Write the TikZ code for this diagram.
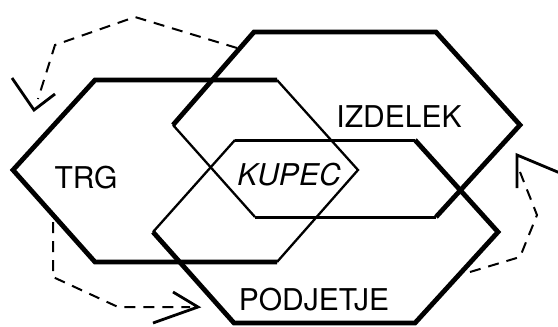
\documentclass[tikz,border=0pt]{standalone}
\usepackage{fontspec}
\setmainfont{TeX Gyre Heros}
\begin{document}
\begin{tikzpicture}[x=1pt,y=-1pt,
  thickedge/.style={line width=4.8pt,line join=miter,line cap=butt},
  midedge/.style={line width=3pt,line cap=butt},
  thinedge/.style={line width=2.3pt,line cap=butt},
  flow/.style={line width=2pt,dash pattern=on 11pt off 8pt},
  tipline/.style={line width=2.8pt,line join=miter},
  label/.style={font=\fontsize{30}{36}\selectfont,anchor=base,inner sep=0pt}]
\useasboundingbox (0,0) rectangle (558,327);

% hexagon TRG
\coordinate (tL)  at (13,170);
\coordinate (tTL) at (95,80);
\coordinate (tTR) at (277,80);
\coordinate (tR)  at (358,170);
\coordinate (tBR) at (277,262);
\coordinate (tBL) at (95,262);
% hexagon IZDELEK
\coordinate (iL)  at (173,125);
\coordinate (iTL) at (254,32);
\coordinate (iTR) at (436,32);
\coordinate (iR)  at (520,125);
\coordinate (iBR) at (436,217);
\coordinate (iBL) at (255,217);
% hexagon PODJETJE
\coordinate (pL)  at (153,232);
\coordinate (pTL) at (235,140);
\coordinate (pTR) at (415,140);
\coordinate (pR)  at (498,232);
\coordinate (pBR) at (415,323);
\coordinate (pBL) at (234,323);

% inner (thin) sides
\draw[thinedge] (tTR) -- (tR) -- (tBR);
\draw[thinedge] (iL) -- (iBL);
\draw[thinedge] (pL) -- (pTL);
\draw[midedge] (iBL) -- (iBR);
\draw[midedge] (pTL) -- (pTR);
% outer (thick) sides
\draw[thickedge] (tTR) -- (tTL) -- (tL) -- (tBL) -- (tBR);
\draw[thickedge] (iBR) -- (iR) -- (iTR) -- (iTL) -- (iL);
\draw[thickedge] (pTR) -- (pR) -- (pBR) -- (pBL) -- (pL);

% labels
\node[label] (izdelek) at (399,127) {IZDELEK};
\node[label] (trg) at (86,188) {TRG};
\node[label,font=\fontsize{30}{36}\selectfont\itshape] (kupec) at (289,185) {KUPEC};
\node[label] (podjetje) at (314,310) {PODJETJE};

% cycle arrows
\coordinate (a1s) at (237,48);
\coordinate (a1b) at (135,17);
\coordinate (a1c) at (55,45);
\coordinate (a1e) at (38,99);
\coordinate (a1t) at (34,110);
\coordinate (a1u) at (12,78);
\coordinate (a1v) at (55,94);
\draw[flow] (a1s) -- (a1b) -- (a1c) -- (a1e);
\draw[tipline] (a1u) -- (a1t) -- (a1v);

\coordinate (a2s) at (53,222);
\coordinate (a2b) at (53,277);
\coordinate (a2c) at (118,307);
\coordinate (a2e) at (190,307);
\coordinate (a2t) at (198,307);
\coordinate (a2u) at (173,292);
\coordinate (a2v) at (153,323);
\draw[flow] (a2s) -- (a2b) -- (a2c) -- (a2e);
\draw[tipline] (a2u) -- (a2t) -- (a2v);

\coordinate (a3s) at (470,272);
\coordinate (a3b) at (520,257);
\coordinate (a3c) at (537,215);
\coordinate (a3e) at (520,172);
\coordinate (a3t) at (517,155);
\coordinate (a3u) at (517,188);
\coordinate (a3v) at (560,173);
\draw[flow] (a3s) -- (a3b) -- (a3c) -- (a3e);
\draw[tipline] (a3u) -- (a3t) -- (a3v);
\end{tikzpicture}
\end{document}
